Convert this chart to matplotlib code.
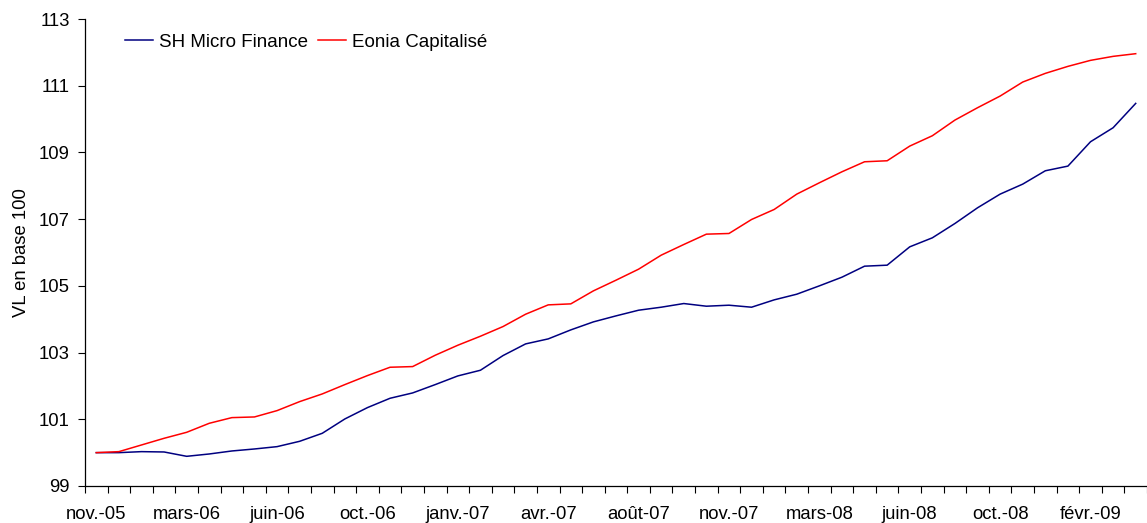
import numpy as np
import matplotlib
matplotlib.use('Agg')
from matplotlib import pyplot as plt
from matplotlib.ticker import FixedLocator

plt.rcParams['font.family'] = ['Liberation Sans', 'DejaVu Sans']

# one value per observation (47 points, nov.-05 .. spring 09)
sh_micro = [100.00, 100.00, 100.03, 100.02, 99.89, 99.96, 100.05, 100.11, 100.18, 100.34,
            100.58, 101.01, 101.35, 101.63, 101.79, 102.04, 102.30, 102.47, 102.91, 103.26,
            103.41, 103.68, 103.92, 104.10, 104.27, 104.36, 104.47, 104.39, 104.42, 104.36,
            104.58, 104.75, 105.00, 105.26, 105.59, 105.62, 106.17, 106.44, 106.87, 107.34,
            107.75, 108.05, 108.45, 108.59, 109.32, 109.74, 110.47]
eonia = [100.00, 100.03, 100.23, 100.43, 100.61, 100.88, 101.05, 101.07, 101.26, 101.53,
         101.76, 102.04, 102.31, 102.56, 102.58, 102.92, 103.22, 103.49, 103.78, 104.15,
         104.43, 104.46, 104.85, 105.17, 105.50, 105.92, 106.24, 106.55, 106.57, 106.99,
         107.29, 107.75, 108.09, 108.42, 108.72, 108.75, 109.19, 109.50, 109.97, 110.34,
         110.69, 111.11, 111.37, 111.58, 111.76, 111.88, 111.96]
tick_labels = ['nov.-05', 'mars-06', 'juin-06', 'oct.-06', 'janv.-07', 'avr.-07',
               'août-07', 'nov.-07', 'mars-08', 'juin-08', 'oct.-08', 'févr.-09']
label_step = 4

x = np.arange(len(sh_micro))

fig = plt.figure(figsize=(11.47, 5.23), dpi=100)
ax = fig.add_axes([85 / 1147, 1 - 486 / 523, 1 - 85 / 1147, (486 - 19) / 523])

ax.plot(x, sh_micro, color='#000080', lw=1.1, label='SH Micro Finance')
ax.plot(x, eonia, color='#FF0000', lw=1.1, label='Eonia Capitalisé')

ax.set_xlim(-0.5, len(x) - 0.5)
ax.set_ylim(99, 113)
ax.set_yticks(np.arange(99, 114, 2))

ax.set_xticks(x[::label_step][:len(tick_labels)])
ax.set_xticklabels(tick_labels)
ax.xaxis.set_minor_locator(FixedLocator(np.arange(-0.5, len(x), 1)))
ax.tick_params(axis='x', which='major', length=0, pad=14.5, labelsize=13.3)
ax.tick_params(axis='x', which='minor', length=5, width=0.8, direction='out')
ax.tick_params(axis='y', length=5, width=0.8, direction='out', pad=6, labelsize=13.3)

for s in ['top', 'right']:
    ax.spines[s].set_visible(False)
for s in ['left', 'bottom']:
    ax.spines[s].set_linewidth(0.9)

ax.set_ylabel('VL en base 100', fontsize=13.3, labelpad=6.5)

ax.legend(loc='center left', bbox_to_anchor=(125 / 1147, 1 - 42 / 523),
          bbox_transform=fig.transFigure, ncol=2, frameon=False, fontsize=13.5,
          handlelength=1.5, handletextpad=0.3, columnspacing=0.55, borderaxespad=0,
          borderpad=0)

fig.savefig('out.png', dpi=100)
